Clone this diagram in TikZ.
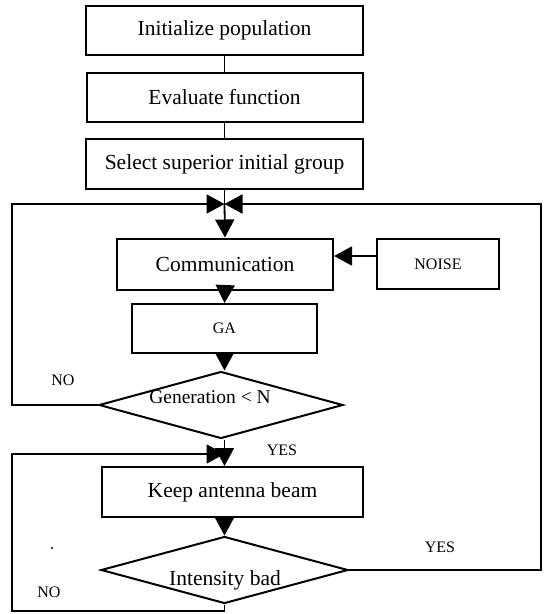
\documentclass[tikz,border=0pt]{standalone}
\usepackage{fontspec}
\setmainfont{Liberation Serif}
\usetikzlibrary{arrows.meta,shapes.geometric}
\begin{document}
\begin{tikzpicture}[x=1pt,y=-1pt,
  box/.style={draw, line width=2pt, inner sep=0, font=\fontsize{21.5}{25}\selectfont},
  smallbox/.style={box, font=\fontsize{16}{19}\selectfont},
  dec/.style={draw, diamond, aspect=3.6, line width=2pt, inner sep=0},
  dtext/.style={inner sep=0},
  lbl/.style={font=\fontsize{16}{19}\selectfont, inner sep=0},
  conn/.style={line width=1.8pt},
  arr/.style={conn, -{Triangle[length=18pt,width=19pt]}},
]
\fill[white] (0,0) rectangle (546,614);
\useasboundingbox (0,0) rectangle (546,614);
\node[box, minimum width=277pt, minimum height=49pt] (b1) at (224.5,30.5) {Initialize population};
\node[box, minimum width=276pt, minimum height=49pt] (b2) at (224.5,97.5) {Evaluate function};
\node[box, minimum width=277pt, minimum height=50pt] (b3) at (224.5,164) {Select superior initial group};
\node[box, minimum width=216pt, minimum height=51pt] (comm) at (225,264) {Communication};
\node[smallbox, minimum width=122pt, minimum height=50pt] (noise) at (438,264) {NOISE};
\node[smallbox, minimum width=185pt, minimum height=49pt] (ga) at (224.5,328.5) {GA};
\node[dec, minimum width=244pt, minimum height=67pt] (dia1) at (221,405) {};
\node[dtext, font=\fontsize{19.5}{23}\selectfont] (t1) at (210,397) {Generation < N};
\node[box, minimum width=261pt, minimum height=50pt] (keep) at (232.5,492) {Keep antenna beam};
\node[dec, minimum width=247pt, minimum height=67pt] (dia2) at (224.5,570) {};
\node[dtext, font=\fontsize{21.5}{25}\selectfont] (t2) at (225,580) {Intensity bad};
\coordinate (m1) at (224.5,204);
\coordinate (m2) at (224.5,454);
\coordinate (m3) at (224.5,611);
\coordinate (c1) at (12,0);
\coordinate (c2) at (541,0);
\draw[conn] (b1.south) -- (b2.north);
\draw[conn] (b2.south) -- (b3.north);
\draw[conn] (b3.south) -- (m1);
\draw[arr] (m1) -- (comm.north);
\draw[arr] ([yshift=8pt]noise.west) -- ([yshift=8pt]noise.west -| comm.east);
\draw[arr] (comm.south) -- (ga.north);
\draw[arr] (ga.south) -- (ga.south |- dia1.north);
\draw[arr] (dia1.west) -- (dia1.west -| c1) |- (m1);
\draw[conn] (m2 |- dia1.south) -- (m2);
\draw[arr] (m2) -- (m2 |- keep.north);
\draw[arr] (keep.south -| m2) -- (dia2.north);
\draw[arr] (dia2.east) -- (dia2.east -| c2) |- (m1);
\draw[arr] (dia2.south) -- (m3) -- (m3 -| c1) |- (m2);
\node[lbl] (no1) at (63,380) {NO};
\node[lbl] (yes1) at (282,450) {YES};
\node[lbl] (yes2) at (440,547) {YES};
\node[lbl] (no2) at (49,592) {NO};
\fill (52,548) circle (1.1pt);
\end{tikzpicture}
\end{document}
